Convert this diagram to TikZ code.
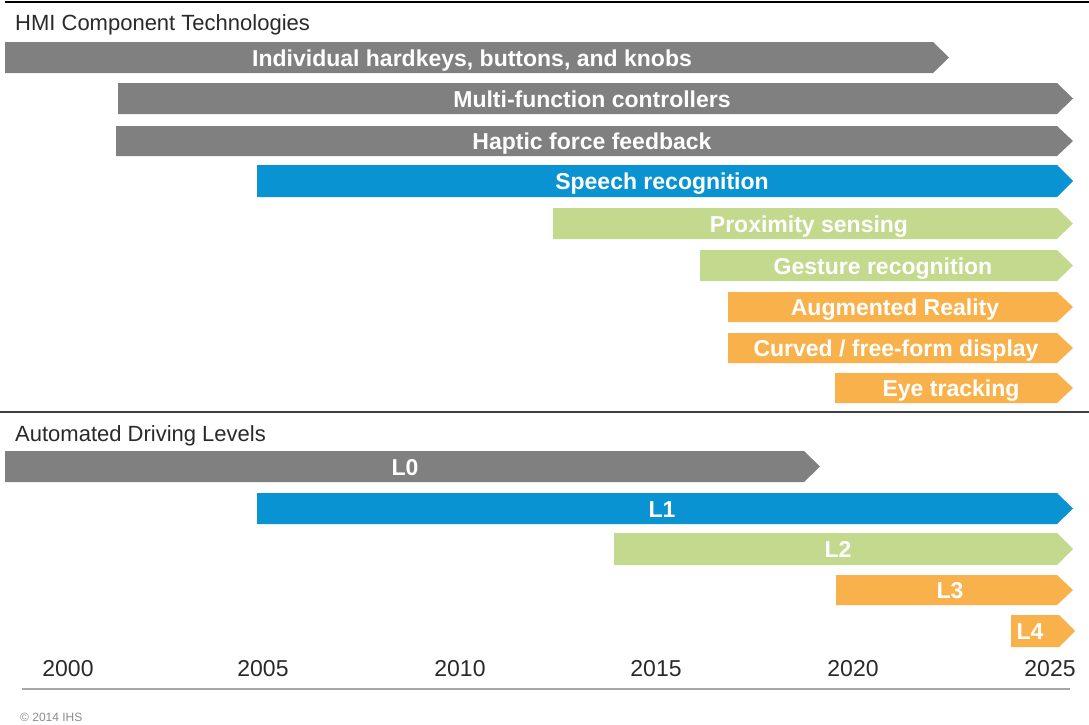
\documentclass[tikz,border=0pt]{standalone}
\usepackage{fontspec}
\setmainfont{Liberation Sans}
\definecolor{bgray}{HTML}{808080}
\definecolor{bblue}{HTML}{0A93D2}
\definecolor{bgreen}{HTML}{C3DA8E}
\definecolor{borange}{HTML}{F9B14B}
\definecolor{txtdark}{HTML}{2A2A2A}
\tikzset{
  barlabel/.style={text=white, font=\fontsize{23}{27}\selectfont\bfseries, inner sep=0pt, anchor=base},
  header/.style={font=\fontsize{22}{26}\selectfont, text=txtdark, anchor=base west, inner sep=0pt},
  yearlabel/.style={font=\fontsize{23}{27}\selectfont, text=txtdark, anchor=base, inner sep=0pt},
  copyr/.style={font=\fontsize{12}{14}\selectfont, text=black!45, anchor=base west, inner sep=0pt},
}
% name, colour, x start, x tip, y top, y bottom, label x, label
\newcommand\mybar[8]{%
  \fill[#2] (#3,#5) -- ({#4-16},#5) -- (#4,{(#5+#6)/2}) -- ({#4-16},#6) -- (#3,#6) -- cycle;
  \node[barlabel] (#1) at (#7,{(#5+#6)/2+8.5}) {#8};
}
\begin{document}
\begin{tikzpicture}[x=1pt,y=-1pt]
\useasboundingbox (0,0) rectangle (1089,724);
\fill[white] (0,0) rectangle (1089,724);
% rules
\draw[black, line width=2pt] (5,2) -- (1089,2);
\draw[black!75, line width=2.5pt] (0,412) -- (1089,412);
\draw[black!35, line width=1.5pt] (22,689) -- (1070,689);
% headers
\node[header] (h1) at (15,30) {HMI Component Technologies};
\node[header] (h2) at (15,441) {Automated Driving Levels};
% HMI bars
\mybar{b1}{bgray}{5}{949}{42}{73}{472}{Individual hardkeys, buttons, and knobs}
\mybar{b2}{bgray}{118}{1073}{83}{114}{592}{Multi-function controllers}
\mybar{b3}{bgray}{116}{1073}{126}{156}{592}{Haptic force feedback}
\mybar{b4}{bblue}{257}{1073}{165}{197}{662}{Speech recognition}
\mybar{b5}{bgreen}{553}{1073}{208}{239}{809}{Proximity sensing}
\mybar{b6}{bgreen}{700}{1073}{250}{281}{883}{Gesture recognition}
\mybar{b7}{borange}{728}{1073}{292}{322}{895}{Augmented Reality}
\mybar{b8}{borange}{728}{1073}{333}{363}{896}{Curved / free-form display}
\mybar{b9}{borange}{835}{1073}{373}{403}{951}{Eye tracking}
% driving levels
\mybar{l0}{bgray}{5}{820}{451}{482}{405}{L0}
\mybar{l1}{bblue}{257}{1073}{493}{524}{662}{L1}
\mybar{l2}{bgreen}{614}{1073}{533}{565}{838}{L2}
\mybar{l3}{borange}{836}{1073}{575}{605}{950}{L3}
\mybar{l4}{borange}{1011}{1075}{615}{647}{1030}{L4}
% years
\node[yearlabel] (y2000) at (68,676) {2000};
\node[yearlabel] (y2005) at (263,676) {2005};
\node[yearlabel] (y2010) at (460,676) {2010};
\node[yearlabel] (y2015) at (656,676) {2015};
\node[yearlabel] (y2020) at (853,676) {2020};
\node[yearlabel] (y2025) at (1050,676) {2025};
% copyright
\node[copyr] (cr) at (20,721) {© 2014 IHS};
\end{tikzpicture}
\end{document}
